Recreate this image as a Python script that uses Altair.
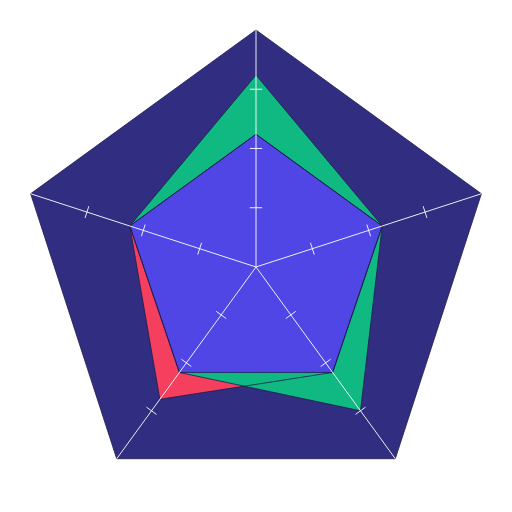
import altair as alt
import pandas as pd

axis_names = ["A", "B", "C", "D", "E"]
outer_vals = [100, 100, 100, 100, 100]
red_vals = [56, 56, 55, 69, 56]
green_vals = [81, 56, 75, 55, 56]
indigo_vals = [56, 56, 55, 55, 56]
tick_vals = [25, 50, 75]
max_val = 100

series = [
    ("outer", outer_vals, "#312e81"),
    ("red", red_vals, "#f43f5e"),
    ("green", green_vals, "#10b981"),
    ("indigo", indigo_vals, "#4f46e5"),
]

n = len(axis_names)
rows = []
for name, vals, _ in series:
    for i in range(n + 1):
        rows.append({"series": name, "i": i, "value": vals[i % n]})
poly_df = pd.DataFrame(rows)

axis_df = pd.DataFrame({"axis": axis_names, "i": list(range(n)), "value": [max_val] * n})
tick_df = pd.DataFrame(
    [{"i": i, "t": t} for i in range(n) for t in tick_vals]
)

xs = alt.Scale(domain=[-104.64, 104.64], nice=False, zero=False)
ys = alt.Scale(domain=[-100, 109.28], nice=False, zero=False)

theta = f"datum.i * 2 * PI / {n}"


def poly(name, **mark):
    return (
        alt.Chart(poly_df)
        .transform_filter(alt.datum.series == name)
        .transform_calculate(
            x=f"datum.value * sin({theta})",
            y=f"datum.value * cos({theta})",
        )
        .mark_line(**mark)
        .encode(
            x=alt.X("x:Q", scale=xs, axis=None),
            y=alt.Y("y:Q", scale=ys, axis=None),
            order=alt.Order("i:Q"),
        )
    )


fills = [poly(name, fill=color, strokeWidth=0, strokeOpacity=0) for name, _, color in series]
strokes = [
    poly(name, stroke="#1e1b4b", strokeWidth=0.8, strokeJoin="miter")
    for name, _, _ in series
]

axis_lines = (
    alt.Chart(axis_df)
    .transform_calculate(
        x0="0",
        y0="0",
        x=f"datum.value * sin({theta})",
        y=f"datum.value * cos({theta})",
    )
    .mark_rule(color="#ffffff", strokeWidth=1, opacity=0.9)
    .encode(
        x=alt.X("x0:Q", scale=xs, axis=None),
        y=alt.Y("y0:Q", scale=ys, axis=None),
        x2="x:Q",
        y2="y:Q",
    )
)

h = 2.6
ticks = (
    alt.Chart(tick_df)
    .transform_calculate(
        cx=f"datum.t * sin({theta})",
        cy=f"datum.t * cos({theta})",
    )
    .transform_calculate(
        x1=f"datum.cx - {h} * cos({theta})",
        x2=f"datum.cx + {h} * cos({theta})",
        y1=f"datum.cy + {h} * sin({theta})",
        y2=f"datum.cy - {h} * sin({theta})",
    )
    .mark_rule(color="#ffffff", strokeWidth=1, opacity=0.9)
    .encode(
        x=alt.X("x1:Q", scale=xs, axis=None),
        y=alt.Y("y1:Q", scale=ys, axis=None),
        x2="x2:Q",
        y2="y2:Q",
    )
)

chart = (
    alt.layer(*fills, *strokes, axis_lines, ticks)
    .properties(width=496, height=496, padding=0, autosize=alt.AutoSizeParams(type="none"))
    .configure_view(strokeWidth=0)
)

chart.save("out.html", embed_options={"renderer": "svg", "actions": False})
